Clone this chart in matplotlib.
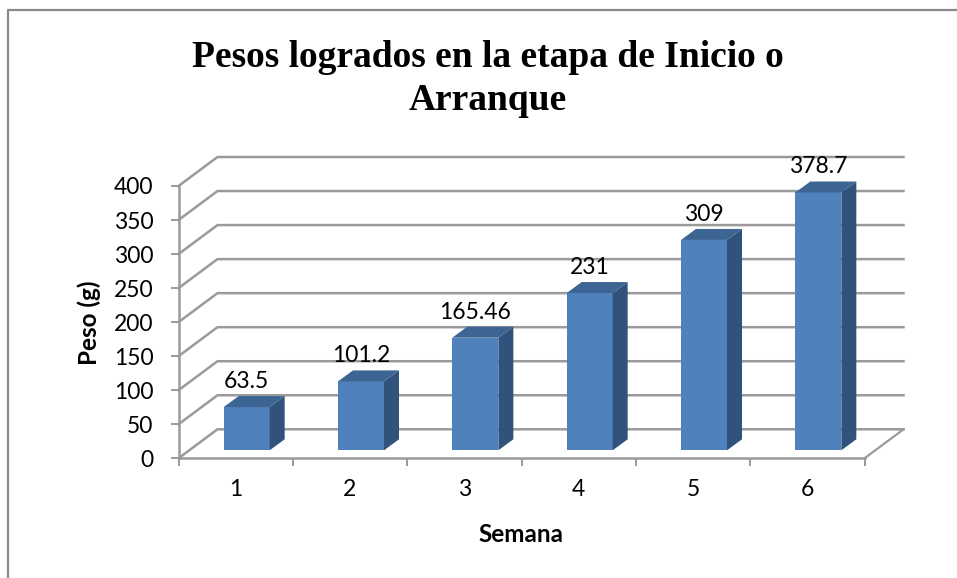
import matplotlib
matplotlib.use("Agg")
import matplotlib.pyplot as plt
from matplotlib.patches import Polygon

semanas = ["1", "2", "3", "4", "5", "6"]
pesos = [63.5, 101.2, 165.46, 231, 309, 378.7]
etiquetas = ["63.5", "101.2", "165.46", "231", "309", "378.7"]
y_ticks = [0, 50, 100, 150, 200, 250, 300, 350, 400]
titulo = "Pesos logrados en la etapa de Inicio o\nArranque"

W, H = 957, 578
GRID = "#9a9a9a"
FRONT = "#4f81bd"
SIDE = "#31527b"
TOP = "#3c6594"
FS = 16.5

fig = plt.figure(figsize=(W / 100, H / 100), dpi=100)
ax = fig.add_axes([178.5 / W, 1 - 458.3 / H, 686 / W, 272.3 / H])
ax.set_xlim(0, 6)
ax.set_ylim(0, 400)

# px to data units
px_x = 6 / 686
px_y = 400 / 272.3

# walls
dx, dy = 39 * px_x, 29 * px_y
for v in y_ticks:
    ax.plot([0, dx, 6 + dx], [v, v + dy, v + dy], color=GRID, lw=1.8, clip_on=False, zorder=1)
ax.plot([6, 6 + dx], [0, dy], color=GRID, lw=1.6, clip_on=False, zorder=1)

# bars
off_x = 11 * px_x
bw = 46 * px_x
ddx, ddy = 15 * px_x, 11 * px_y
y0 = 8 * px_y
for i, v in enumerate(pesos):
    x0 = i + 0.5 + off_x - bw / 2
    x1 = x0 + bw
    y1 = v + y0
    ax.bar(x0 + bw / 2, v, width=bw, bottom=y0, color=FRONT, zorder=3, clip_on=False)
    ax.add_patch(Polygon([(x1, y0), (x1 + ddx, y0 + ddy), (x1 + ddx, y1 + ddy), (x1, y1)],
                         facecolor=SIDE, edgecolor="none", zorder=3, clip_on=False))
    ax.add_patch(Polygon([(x0, y1), (x0 + ddx, y1 + ddy), (x1 + ddx, y1 + ddy), (x1, y1)],
                         facecolor=TOP, edgecolor="none", zorder=3, clip_on=False))
    ax.text(x0 + bw / 2, y1 + 19 * px_y, etiquetas[i], ha="center", va="baseline",
            fontsize=FS, family="Lato", color="black", zorder=5, clip_on=False)

ax.set_yticks(y_ticks)
ax.set_xticks(range(7))
ax.set_xticklabels([])
ax.set_xticks([i + 0.5 for i in range(6)], minor=True)
ax.set_xticklabels(semanas, minor=True, fontsize=FS, family="Lato")
ax.tick_params(axis="x", which="minor", length=0, pad=15)
ax.tick_params(axis="x", which="major", length=6, width=1.4, color=GRID)
ax.tick_params(axis="y", length=6, width=1.4, color=GRID, pad=12, labelsize=FS)
for t in ax.get_yticklabels():
    t.set_family("Lato")

for s in ["top", "right"]:
    ax.spines[s].set_visible(False)
for s in ["left", "bottom"]:
    ax.spines[s].set_color(GRID)
    ax.spines[s].set_linewidth(1.8)
ax.patch.set_visible(False)

fig.text(488 / W, 1 - 67 / H, titulo.split("\n")[0], ha="center", va="baseline",
         fontsize=27, family="Liberation Serif", fontweight="bold")
fig.text(488 / W, 1 - 110 / H, titulo.split("\n")[1], ha="center", va="baseline",
         fontsize=27, family="Liberation Serif", fontweight="bold")
fig.text(89 / W, 1 - 323 / H, "Peso (g)", rotation=90, ha="center", va="center",
         fontsize=17.5, family="Lato", fontweight="bold")
fig.text(521 / W, 1 - 534 / H, "Semana", ha="center", va="center",
         fontsize=17.5, family="Lato", fontweight="bold")

# marco
fig.add_artist(plt.Line2D([8 / W, 8 / W, 1], [0, 1 - 10 / H, 1 - 10 / H], color="#8a8a8a", lw=1.6))

fig.savefig("out.png", dpi=100)
